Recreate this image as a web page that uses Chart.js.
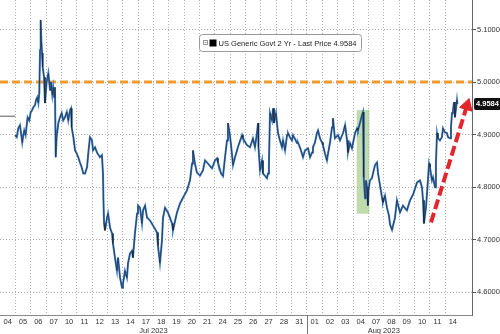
<!DOCTYPE html>
<html>
<head>
<meta charset="utf-8">
<script src="https://cdn.jsdelivr.net/npm/chart.js@4/dist/chart.umd.min.js"></script>
<style>
  html, body { margin: 0; padding: 0; background: #fff; }
</style>
</head>
<body>
<canvas id="grafico" width="500" height="334"></canvas>
<script>
// dias de negociacion (una columna por dia) y meses
const dias = ['04', '05', '06', '07', '10', '11', '12', '13', '14', '17', '18', '19', '20', '21', '24', '25', '26', '27', '28', '31',
  '01', '02', '03', '04', '07', '08', '09', '10', '11', '14']
const meses = ['Jul 2023', 'Aug 2023']
const diasPorMes = [20, 10]
const ticksY = [4.6, 4.7, 4.8, 4.9, 5.0, 5.1]

// posicion en dias (0 = inicio del 04 Jul) y rendimiento
const posX = [
  0.98, 1.09, 1.19, 1.30, 1.37, 1.45, 1.52, 1.58, 1.67, 1.74,
  1.80, 1.91, 2.00, 2.08, 2.17, 2.28, 2.35, 2.43, 2.50, 2.56,
  2.61, 2.65, 2.69, 2.74, 2.78, 2.87, 2.93, 3.04, 3.15, 3.26,
  3.32, 3.41, 3.47, 3.54, 3.58, 3.63, 3.69, 3.80, 3.91, 4.02,
  4.12, 4.23, 4.35, 4.45, 4.56, 4.63, 4.67, 4.78, 4.89, 5.00,
  5.10, 5.21, 5.32, 5.43, 5.54, 5.67, 5.77, 5.86, 5.99, 6.06,
  6.19, 6.32, 6.51, 6.64, 6.71, 6.74, 6.78, 6.84, 6.97, 7.04,
  7.17, 7.30, 7.36, 7.49, 7.62, 7.69, 7.82, 7.95, 8.01, 8.14,
  8.27, 8.34, 8.47, 8.60, 8.66, 8.79, 8.93, 8.99, 9.12, 9.25,
  9.32, 9.45, 9.58, 9.77, 9.97, 10.23, 10.29, 10.42, 10.55, 10.62,
  10.75, 10.94, 11.21, 11.27, 11.53, 11.73, 11.92, 12.18, 12.38, 12.51,
  12.57, 12.70, 12.83, 13.03, 13.22, 13.36, 13.55, 13.81, 14.01, 14.14,
  14.20, 14.40, 14.53, 14.66, 14.79, 14.85, 14.98, 15.11, 15.18, 15.31,
  15.50, 15.77, 15.83, 16.09, 16.29, 16.48, 16.61, 16.74, 16.81, 16.84,
  16.94, 17.07, 17.13, 17.26, 17.39, 17.46, 17.52, 17.59, 17.72, 17.79,
  17.85, 17.98, 18.11, 18.24, 18.37, 18.44, 18.57, 18.70, 18.76, 18.89,
  19.02, 19.09, 19.35, 19.41, 19.54, 19.67, 19.74, 19.87, 20.07, 20.20,
  20.33, 20.39, 20.52, 20.65, 20.72, 20.85, 20.98, 21.04, 21.17, 21.30,
  21.37, 21.50, 21.63, 21.69, 21.82, 22.02, 22.15, 22.35, 22.48, 22.61,
  22.67, 22.80, 22.93, 23.00, 23.13, 23.26, 23.32, 23.45, 23.58, 23.65,
  23.68, 23.71, 23.78, 23.84, 23.91, 23.97, 24.01, 24.10, 24.23, 24.30,
  24.43, 24.56, 24.63, 24.76, 24.89, 24.95, 25.08, 25.21, 25.34, 25.41,
  25.54, 25.73, 25.86, 26.06, 26.25, 26.51, 26.71, 26.91, 27.17, 27.36,
  27.49, 27.56, 27.62, 27.75, 27.88, 27.95, 28.01, 28.14, 28.21, 28.34,
  28.40, 28.47, 28.53, 28.66, 28.79, 28.86, 28.99, 29.12, 29.19, 29.32,
  29.38, 29.45, 29.51, 29.58, 29.64, 29.77, 29.80
]
const rendimiento = [
  4.899, 4.895, 4.912, 4.918, 4.903, 4.885, 4.899, 4.908, 4.899, 4.918,
  4.933, 4.927, 4.943, 4.946, 4.952, 4.956, 4.966, 4.971, 4.960, 4.979,
  5.061, 5.118, 5.080, 5.055, 5.029, 5.009, 4.960, 5.000, 5.017, 4.985,
  5.000, 4.975, 4.990, 4.971, 4.990, 4.857, 4.895, 4.922, 4.933, 4.941,
  4.927, 4.933, 4.943, 4.927, 4.946, 4.950, 4.914, 4.895, 4.870, 4.864,
  4.857, 4.847, 4.838, 4.826, 4.826, 4.838, 4.870, 4.895, 4.889, 4.870,
  4.876, 4.866, 4.857, 4.861, 4.826, 4.775, 4.731, 4.718, 4.742, 4.750,
  4.723, 4.712, 4.693, 4.666, 4.641, 4.666, 4.628, 4.609, 4.616, 4.641,
  4.628, 4.655, 4.674, 4.679, 4.666, 4.712, 4.750, 4.765, 4.761, 4.731,
  4.756, 4.765, 4.742, 4.737, 4.727, 4.714, 4.689, 4.656, 4.698, 4.742,
  4.761, 4.752, 4.731, 4.718, 4.752, 4.769, 4.780, 4.794, 4.813, 4.845,
  4.870, 4.845, 4.828, 4.822, 4.832, 4.851, 4.845, 4.836, 4.851, 4.855,
  4.847, 4.826, 4.821, 4.857, 4.889, 4.922, 4.899, 4.864, 4.842, 4.857,
  4.876, 4.899, 4.893, 4.880, 4.876, 4.893, 4.876, 4.903, 4.922, 4.876,
  4.832, 4.851, 4.826, 4.822, 4.817, 4.826, 4.845, 4.941, 4.927, 4.950,
  4.922, 4.941, 4.903, 4.889, 4.876, 4.889, 4.870, 4.899, 4.903, 4.895,
  4.889, 4.899, 4.884, 4.885, 4.876, 4.864, 4.857, 4.870, 4.874, 4.857,
  4.866, 4.876, 4.885, 4.903, 4.908, 4.893, 4.885, 4.880, 4.864, 4.851,
  4.864, 4.885, 4.914, 4.931, 4.893, 4.899, 4.889, 4.903, 4.918, 4.889,
  4.866, 4.884, 4.874, 4.884, 4.903, 4.912, 4.908, 4.922, 4.937, 4.943,
  4.857, 4.819, 4.779, 4.813, 4.800, 4.765, 4.794, 4.813, 4.817, 4.826,
  4.842, 4.847, 4.826, 4.803, 4.780, 4.771, 4.784, 4.761, 4.746, 4.729,
  4.719, 4.742, 4.775, 4.752, 4.765, 4.756, 4.775, 4.786, 4.809, 4.813,
  4.800, 4.775, 4.731, 4.761, 4.813, 4.845, 4.838, 4.813, 4.819, 4.800,
  4.845, 4.903, 4.893, 4.889, 4.895, 4.912, 4.904, 4.903, 4.895, 4.893,
  4.914, 4.941, 4.946, 4.962, 4.933, 4.966, 4.958
]
const ultimo = 4.9584
const cierreAnteriorX = [0, 1]
const cierreAnterior = 4.935
const nivelX = [0, 30.75]
const nivel = 5.0
// flecha roja: desde el minimo reciente hasta la punta
const flechaX = [28.08, 30.42]
const flechaY = [4.733, 4.955]
// banda verde (04 Aug)
const bandaX = 23.65
const bandaY = [4.75, 4.946]

const maxX = 30.75
const fuente = 'Liberation Sans'
Chart.defaults.font.family = fuente
Chart.defaults.font.size = 7.5
Chart.defaults.color = '#333'

const serie = posX.map((x, i) => ({ x, y: rendimiento[i] }))

const extras = {
  id: 'extras',
  afterDraw (chart) {
    const { ctx, chartArea } = chart
    const x = chart.scales.x
    const y = chart.scales.y
    ctx.save()
    // separador entre meses
    const sx = Math.round(x.getPixelForValue(diasPorMes[0])) + 0.5
    ctx.strokeStyle = '#777'
    ctx.lineWidth = 1
    ctx.beginPath()
    ctx.moveTo(sx, chartArea.bottom)
    ctx.lineTo(sx, chart.height)
    ctx.stroke()

    // etiqueta del ultimo precio
    const py = y.getPixelForValue(ultimo)
    ctx.fillStyle = '#111'
    ctx.beginPath()
    ctx.roundRect(chartArea.right + 2, py - 6, 30, 12, 2)
    ctx.fill()
    ctx.fillStyle = '#fff'
    ctx.font = 'bold 7.5px "' + fuente + '"'
    ctx.textBaseline = 'middle'
    ctx.fillText(ultimo.toFixed(4), chartArea.right + 4, py + 0.5)

    // leyenda
    const lx = 199.5, ly = 34.5
    ctx.fillStyle = '#fff'
    ctx.strokeStyle = '#9a9a9a'
    ctx.beginPath()
    ctx.roundRect(lx, ly, 162, 17, 3)
    ctx.fill()
    ctx.stroke()
    ctx.strokeStyle = '#999'
    ctx.strokeRect(lx + 4, ly + 6, 4, 4)
    ctx.beginPath()
    ctx.moveTo(lx + 5, ly + 8)
    ctx.lineTo(lx + 7, ly + 8)
    ctx.stroke()
    ctx.fillStyle = '#000'
    ctx.fillRect(lx + 10, ly + 5, 7, 7)
    ctx.fillStyle = '#222'
    ctx.font = '8px "' + fuente + '"'
    ctx.fillText('US Generic Govt 2 Yr - Last Price ' + ultimo.toFixed(4), lx + 19, ly + 9, 138)
    ctx.restore()
  }
}

// sin relleno automatico alrededor de los ejes
const sinPadding = ax => {
  ax.paddingLeft = 0
  ax.paddingRight = 0
  ax.paddingTop = 0
  ax.paddingBottom = 0
}
const ejeLinealX = (extra, alto) => Object.assign({
  type: 'linear',
  min: 0,
  max: maxX,
  offset: false,
  afterFit: ax => { ax.height = alto; sinPadding(ax) }
}, extra)

new Chart(document.getElementById('grafico').getContext('2d'), {
  type: 'line',
  data: {
    datasets: [
      {
        data: flechaX.map((x, i) => ({ x, y: flechaY[i] })),
        borderColor: '#e3262c',
        borderWidth: 4,
        borderDash: [10, 4],
        pointStyle: 'triangle',
        pointRadius: [0, 7.5],
        pointRotation: 17,
        pointBackgroundColor: '#e3262c',
        pointBorderColor: '#e3262c',
        pointBorderWidth: 1,
        order: 0
      },
      {
        label: 'US Generic Govt 2 Yr',
        data: serie,
        borderColor: '#1a1f29',
        borderWidth: 0.6,
        pointRadius: 0,
        order: 1
      },
      {
        data: serie,
        borderColor: '#3d7cc4',
        borderWidth: 2,
        pointRadius: 0,
        order: 2
      },
      {
        data: cierreAnteriorX.map(x => ({ x, y: cierreAnterior })),
        borderColor: '#555',
        borderWidth: 1,
        pointRadius: 0,
        order: 3
      },
      {
        data: nivelX.map(x => ({ x, y: nivel })),
        borderColor: '#f29b2c',
        borderWidth: 3,
        borderDash: [8, 4],
        pointRadius: 0,
        order: 4
      },
      {
        type: 'bar',
        data: [{ x: bandaX, y: bandaY }],
        backgroundColor: 'rgba(150, 195, 120, 0.6)',
        barThickness: 12,
        order: 5
      }
    ]
  },
  options: {
    responsive: false,
    animation: false,
    layout: { padding: 0, autoPadding: false },
    plugins: { legend: { display: false }, tooltip: { enabled: false } },
    scales: {
      x: ejeLinealX({
        position: 'bottom',
        weight: 0,
        afterBuildTicks: ax => { ax.ticks = dias.map((d, i) => ({ value: i + 0.5 })) },
        ticks: { autoSkip: false, maxRotation: 0, padding: 2, callback: (v, i) => dias[i] },
        grid: { display: false, drawTicks: false },
        border: { display: true, color: '#888' }
      }, 10),
      xm: ejeLinealX({
        position: 'bottom',
        weight: 1,
        afterBuildTicks: ax => {
          let inicio = 0
          ax.ticks = diasPorMes.map(n => { const v = inicio + n / 2; inicio += n; return { value: v } })
        },
        ticks: { autoSkip: false, maxRotation: 0, padding: 1, callback: (v, i) => meses[i] },
        grid: { display: false, drawTicks: false },
        border: { display: false }
      }, 9),
      xg: ejeLinealX({
        position: 'top',
        afterBuildTicks: ax => { ax.ticks = dias.slice(1).map((d, i) => ({ value: i + 1 })) },
        ticks: { display: false },
        grid: { color: '#b0b0b0', drawTicks: false },
        border: { display: false, dash: [1, 2] }
      }, 0),
      y: {
        type: 'linear',
        position: 'right',
        min: 4.557,
        max: 5.156,
        afterBuildTicks: ax => { ax.ticks = ticksY.map(v => ({ value: v })) },
        ticks: { padding: 1, callback: v => v.toFixed(4) },
        grid: { color: '#b0b0b0', tickLength: 4, tickColor: '#555', tickBorderDash: [] },
        border: { display: true, color: '#666', dash: [1, 2] },
        afterFit: ax => { ax.width = 28; sinPadding(ax) }
      }
    }
  },
  plugins: [extras]
})
</script>
</body>
</html>
